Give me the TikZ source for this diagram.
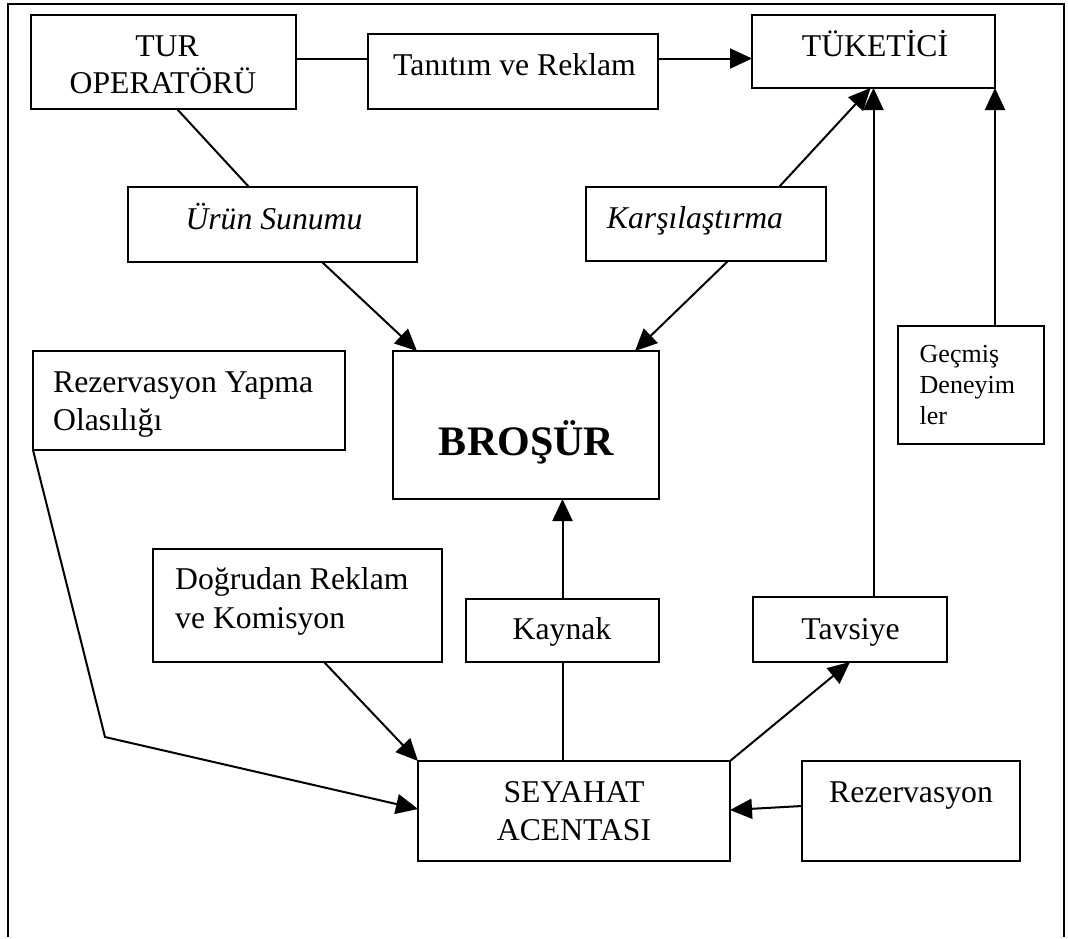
\documentclass[tikz,border=0pt]{standalone}
\usepackage{fontspec}
\setmainfont{Liberation Serif}
\usetikzlibrary{arrows.meta}
\begin{document}
\begin{tikzpicture}[x=1pt,y=-1pt,
  box/.style={draw, line width=2pt, inner sep=0pt, outer sep=0pt, anchor=north west},
  conn/.style={line width=2pt},
  arr/.style={conn, -{Triangle[length=22pt,width=20pt]}},
  lbl/.style={inner sep=0pt, anchor=base, font=\fontsize{31.7}{37}\selectfont},
  lblw/.style={lbl, anchor=base west},
  lbli/.style={lbl, font=\fontsize{31.7}{37}\selectfont\itshape},
  lblbig/.style={lbl, font=\fontsize{42}{48}\selectfont\bfseries},
  lblsmall/.style={lbl, anchor=base west, font=\fontsize{26}{31}\selectfont}
]
% page background and outer frame (open at the bottom)
\fill[white] (0,0) rectangle (1068,937);
\draw[conn] (8,937) -- (8,4) -- (1064,4) -- (1064,937);

% boxes
\node[box, minimum width=265pt, minimum height=94.5pt] (tur) at (31,14.5) {};
\node[box, minimum width=290pt, minimum height=75pt]   (tan) at (368,34) {};
\node[box, minimum width=243pt, minimum height=73.5pt] (tuk) at (752,14.5) {};
\node[box, minimum width=289pt, minimum height=75pt]   (urun) at (128,187) {};
\node[box, minimum width=240pt, minimum height=74pt]   (kars) at (586,187) {};
\node[box, minimum width=266pt, minimum height=148pt]  (bro) at (393,351) {};
\node[box, minimum width=312pt, minimum height=99pt]   (rezy) at (33,351) {};
\node[box, minimum width=146pt, minimum height=118pt]  (gec) at (898,326) {};
\node[box, minimum width=289pt, minimum height=113pt]  (dog) at (153,549) {};
\node[box, minimum width=193pt, minimum height=63pt]   (kay) at (466,599) {};
\node[box, minimum width=194pt, minimum height=65pt]   (tav) at (753,597) {};
\node[box, minimum width=312pt, minimum height=100pt]  (sey) at (418,761) {};
\node[box, minimum width=218pt, minimum height=100pt]  (rez) at (802,761) {};

% labels
\node[lbl] (tur1) at (167,56) {TUR};
\node[lbl] (tur2) at (163,93) {OPERATÖRÜ};
\node[lbl] (tant) at (514.5,75) {Tanıtım ve Reklam};
\node[lbl] (tukt) at (875,56) {TÜKETİCİ};
\node[lbli] (urunt) at (274,229) {Ürün Sunumu};
\node[lbli] (karst) at (695,228) {Karşılaştırma};
\node[lblbig] (brot) at (526.5,455) {BROŞÜR};
\node[lblw] (rezy1) at (53,392) {Rezervasyon Yapma};
\node[lblw] (rezy2) at (53,430) {Olasılığı};
\node[lblsmall] (gec1) at (919.5,362) {Geçmiş};
\node[lblsmall] (gec2) at (919.5,393) {Deneyim};
\node[lblsmall] (gec3) at (919.5,424) {ler};
\node[lblw] (dog1) at (175,589) {Doğrudan Reklam};
\node[lblw] (dog2) at (175,628) {ve Komisyon};
\node[lbl] (kayt) at (562,639) {Kaynak};
\node[lbl] (tavt) at (850.5,639) {Tavsiye};
\node[lbl] (sey1) at (574,802.5) {SEYAHAT};
\node[lbl] (sey2) at (574,840) {ACENTASI};
\node[lbl] (rezt) at (911,802) {Rezervasyon};

% connectors
\draw[conn] ([yshift=3.25pt]tur.east) -- ([yshift=13pt]tan.west);
\draw[arr]  ([yshift=13pt]tan.east) -- ([yshift=-7.25pt]tuk.west);
\draw[conn] ([xshift=13.5pt]tur.south) -- ([xshift=-23.5pt]urun.north);
\draw[arr]  ([xshift=49.5pt]urun.south) -- ([xshift=24pt]bro.north west);
\draw[arr]  ([xshift=22pt]kars.south) -- ([xshift=-24pt]bro.north east);
\draw[arr]  ([xshift=73pt]kars.north) -- ([xshift=-3pt]tuk.south);
\draw[arr]  ([xshift=23.5pt]tav.north) -- (tuk.south);
\draw[arr]  ([xshift=24pt]gec.north) -- (tuk.south east);
\draw[arr]  (kay.north) -- (kay.north |- bro.south);
\draw[conn] (kay.south) -- (kay.south |- sey.north);
\draw[arr]  ([xshift=26.5pt]dog.south) -- (sey.north west);
\draw[arr]  (sey.north east) -- (tav.south);
\draw[arr]  ([yshift=5pt]rez.west) -- ([yshift=1pt]sey.east);
\coordinate (bend) at (105,737);
\draw[arr]  (rezy.south west) -- (bend) -- ([yshift=2pt]sey.west);
\end{tikzpicture}
\end{document}
